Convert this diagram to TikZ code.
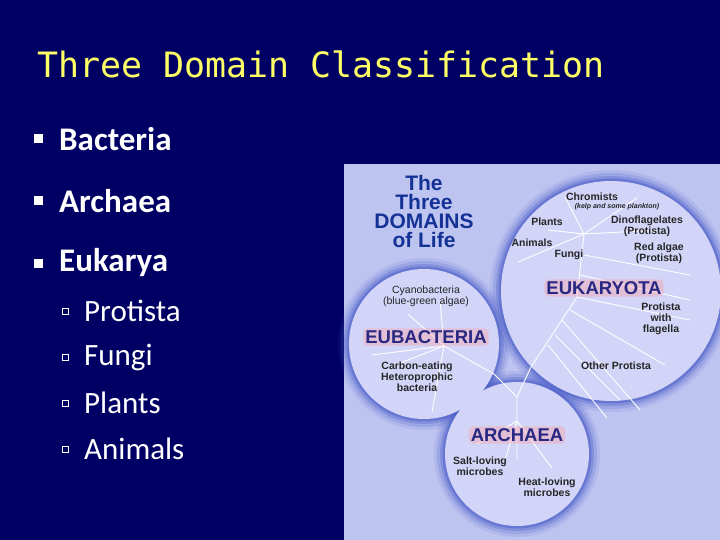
\documentclass[tikz,border=0pt]{standalone}
\usepackage{fontspec}
\setmainfont{Carlito}
\newfontfamily\monof{DejaVu Sans Mono}
\newfontfamily\arialf{Liberation Sans}
\begin{document}
\begin{tikzpicture}[x=1pt,y=-1pt,
  lab/.style={font=\arialf\bfseries\fontsize{10.5}{11}\selectfont,text=black!85,inner sep=0,align=center},
  dom/.style={font=\arialf\bfseries\fontsize{18.5}{19}\selectfont,text={rgb,255:red,40;green,40;blue,130},inner sep=2pt,fill=red!40,fill opacity=0.35,text opacity=1,rounded corners=4pt},
  br/.style={white,line width=0.9pt},
  bul/.style={font=\fontsize{33}{35}\selectfont\bfseries,text=white,anchor=west,inner sep=0},
  sub/.style={font=\fontsize{31}{33}\selectfont,text=white,anchor=west,inner sep=0},
  glow/.style={draw={rgb,255:red,70;green,90;blue,200}}]
\definecolor{navy}{RGB}{0,0,100}
\definecolor{panel}{RGB}{190,196,240}
\definecolor{disk}{RGB}{210,212,248}
\fill[navy] (0,0) rectangle (720,540);
\useasboundingbox (0,0) rectangle (720,540);
\node[font=\monof\fontsize{34.9}{37}\selectfont,text={rgb,255:red,255;green,255;blue,102},anchor=west,inner sep=0] (title) at (37,64) {Three Domain Classification};
\foreach \y/\t/\n in {139/Bacteria/b1,201/Archaea/b2,263/Eukarya/b3}{
  \fill[white] (34,\y-4.5) rectangle (43,\y+4.5);
  \node[bul] (\n) at (59,\y) {\t};}
\foreach \y/\t/\n in {311/Protista/s1,357/Fungi/s2,403/Plants/s3,449/Animals/s4}{
  \draw[white,line width=0.6pt] (62,\y-3) rectangle (68,\y+3);
  \node[sub] (\n) at (84,\y) {\t};}
% panel
\fill[panel] (344,164) rectangle (720,540);
\foreach \c/\r in {{(611,291)}/110,{(424,344)}/75,{(517,454)}/72}{
  \foreach \w/\o in {22/0.12,16/0.18,10/0.28,5/0.45}{
    \draw[glow,line width=\w pt,opacity=\o] \c circle (\r);}}
\foreach \c/\r in {{(611,291)}/110,{(424,344)}/75,{(517,454)}/72}{
  \fill[disk] \c circle (\r);}
% tree
\coordinate (root) at (517,397);
\draw[br] (517,460) -- (517,421) -- (root) -- (531,367) -- (577,297) -- (584,234);
\draw[br] (root) -- (494,374) -- (444,346);
\draw[br] (444,346) -- (408,314); \draw[br] (444,346) -- (440,300); \draw[br] (444,346) -- (372,355);
\draw[br] (444,346) -- (432,412); \draw[br] (444,346) -- (395,365);
\draw[br] (517,421) -- (477,444); \draw[br] (517,421) -- (505,460); \draw[br] (517,421) -- (552,468);
\draw[br] (584,234) -- (565,197); \draw[br] (584,234) -- (637,198); \draw[br] (584,234) -- (548,230);
\draw[br] (584,234) -- (518,262); \draw[br] (584,234) -- (660,230);
\draw[br] (584,255) -- (690,275); \draw[br] (580,275) -- (690,300);
\draw[br] (577,297) -- (690,320); \draw[br] (570,310) -- (665,365);
\draw[br] (562,320) -- (640,410); \draw[br] (555,335) -- (620,400);
\draw[br] (548,345) -- (607,418);
% texts
\node[font=\arialf\bfseries\fontsize{21}{19}\selectfont,text={rgb,255:red,20;green,50;blue,150},align=center,inner sep=0] (hd) at (424,211) {The\\Three\\DOMAINS\\of Life};
\node[lab] (chr) at (592,197) {Chromists};
\node[lab,font=\arialf\bfseries\itshape\fontsize{7}{8}\selectfont] (kelp) at (617,207) {(kelp and some plankton)};
\node[lab] (pl) at (547,222) {Plants};
\node[lab] (din) at (647,226) {Dinoflagelates\\(Protista)};
\node[lab] (an) at (532,243) {Animals};
\node[lab] (fu) at (569,255) {Fungi};
\node[lab] (ra) at (659,253) {Red algae\\(Protista)};
\node[dom] (euk) at (604,288) {EUKARYOTA};
\node[lab] (pf) at (661,319) {Protista\\with\\flagella};
\node[lab] (op) at (616,366) {Other Protista};
\node[lab,font=\arialf\fontsize{10.5}{11}\selectfont] (cy) at (426,296) {Cyanobacteria\\(blue-green algae)};
\node[dom] (eub) at (426,337) {EUBACTERIA};
\node[lab] (ce) at (417,377) {Carbon-eating\\Heteroprophic\\bacteria};
\node[dom] (arc) at (517,435) {ARCHAEA};
\node[lab] (sl) at (480,466) {Salt-loving\\microbes};
\node[lab] (hl) at (547,487) {Heat-loving\\microbes};
\end{tikzpicture}
\end{document}
